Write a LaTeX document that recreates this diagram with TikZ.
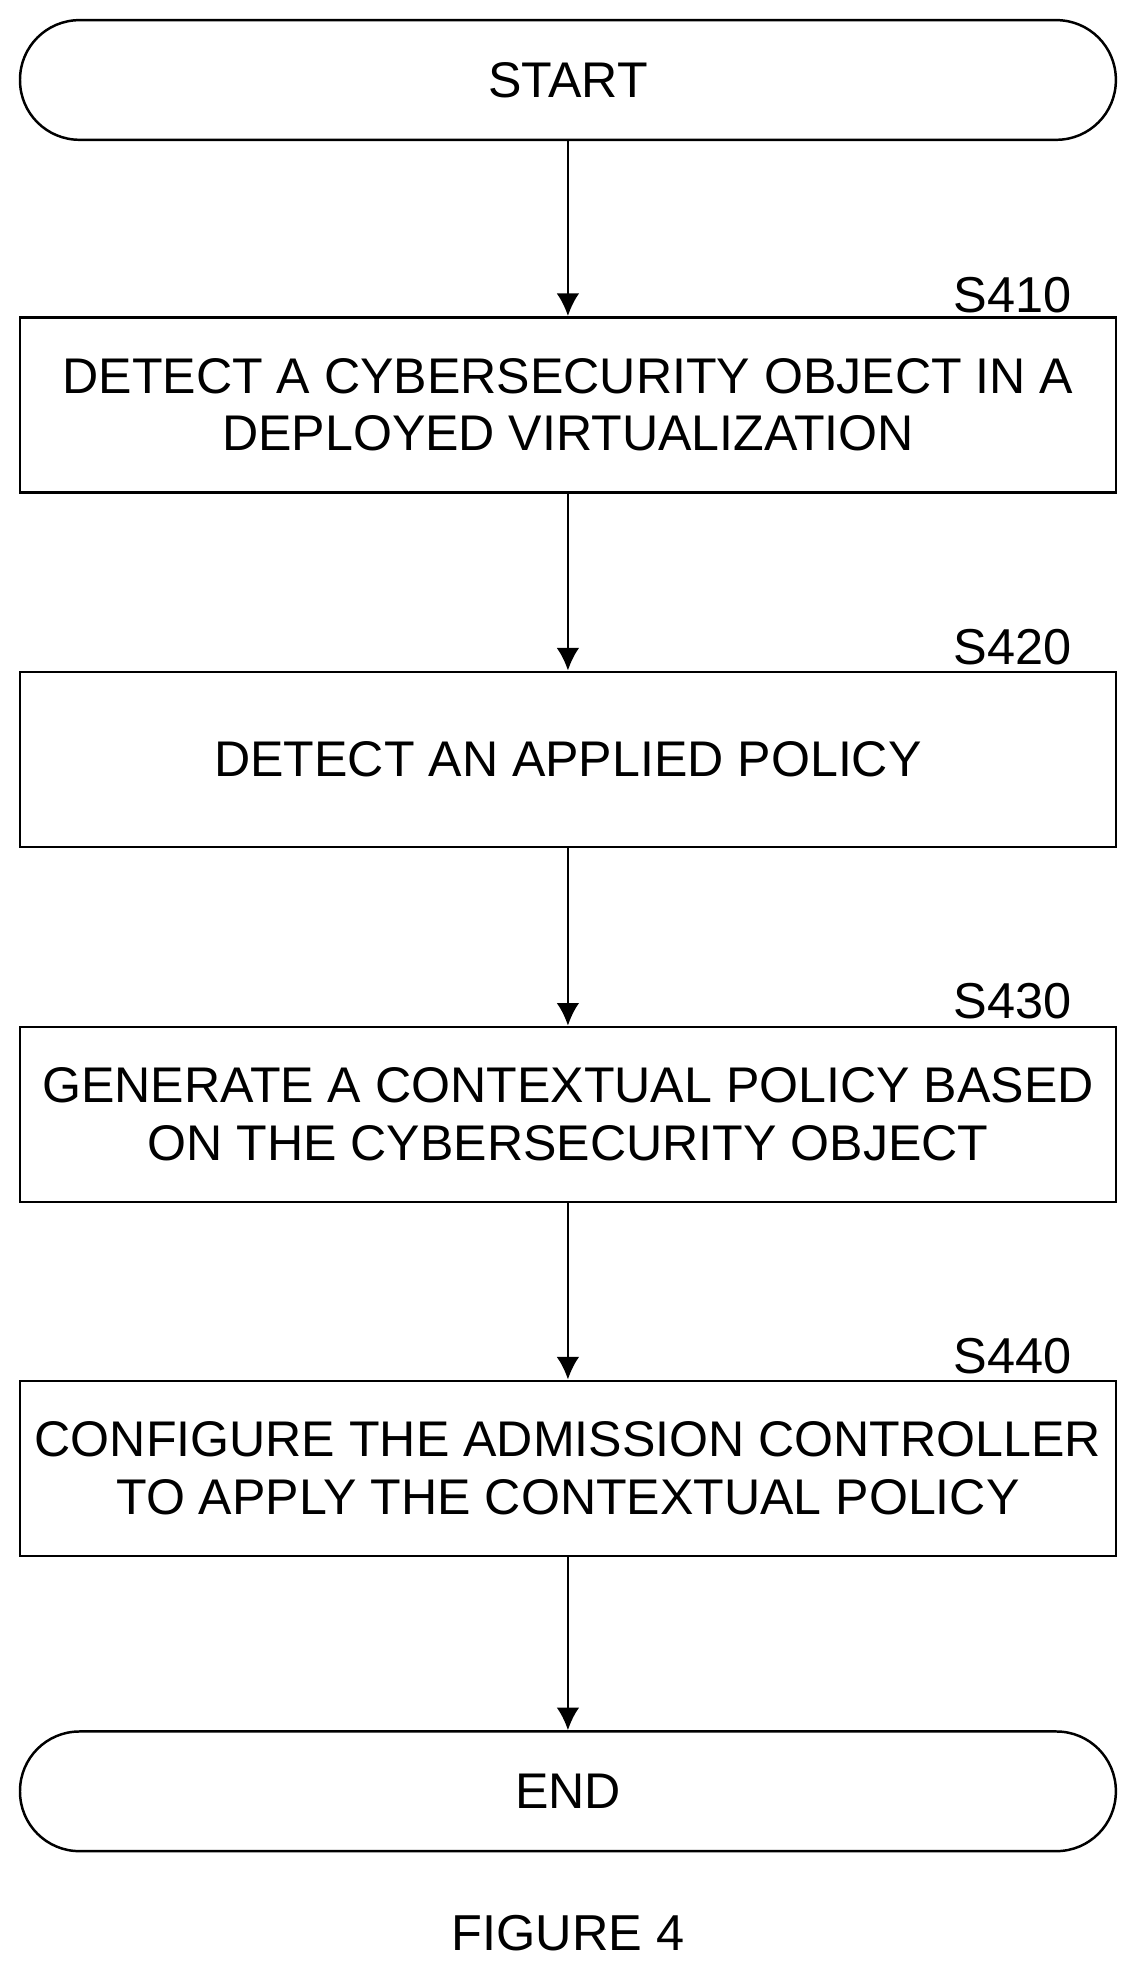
\documentclass[tikz,border=0pt]{standalone}
\usepackage{fontspec}
\setmainfont{Liberation Sans}
\usetikzlibrary{arrows.meta}
\begin{document}
\begin{tikzpicture}[x={(0.025cm,0)},y={(0,-0.025cm)},
  box/.style={draw,line width=1.4pt,minimum width=21.75cm,minimum height=3.475cm,align=center,inner sep=0pt,font=\fontsize{28.3}{32.5}\selectfont},
  term/.style={box,rounded corners=1.18cm,minimum height=2.375cm},
  lab/.style={font=\fontsize{28.5}{30}\selectfont,inner sep=0pt},
  arr/.style={line width=1.4pt,-{Latex[length=0.45cm,width=0.45cm]}}]
\useasboundingbox (0,0) rectangle (902,1566);
\node[term] (start) at (451,63.5) {START};
\node[box] (s410) at (451,321.5) {DETECT A CYBERSECURITY OBJECT IN A\\DEPLOYED VIRTUALIZATION};
\node[box] (s420) at (451,603) {DETECT AN APPLIED POLICY};
\node[box] (s430) at (451,885) {GENERATE A CONTEXTUAL POLICY BASED\\ON THE CYBERSECURITY OBJECT};
\node[box] (s440) at (451,1166) {CONFIGURE THE ADMISSION CONTROLLER\\TO APPLY THE CONTEXTUAL POLICY};
\node[term] (end) at (451,1422.5) {END};
\node[lab] (l410) at (804,234) {S410};
\node[lab] (l420) at (804,514) {S420};
\node[lab] (l430) at (804,795) {S430};
\node[lab] (l440) at (804,1077) {S440};
\node[lab] (fig) at (451,1535) {FIGURE 4};
\draw[arr] (start) -- (s410);
\draw[arr] (s410) -- (s420);
\draw[arr] (s420) -- (s430);
\draw[arr] (s430) -- (s440);
\draw[arr] (s440) -- (end);
\end{tikzpicture}
\end{document}
